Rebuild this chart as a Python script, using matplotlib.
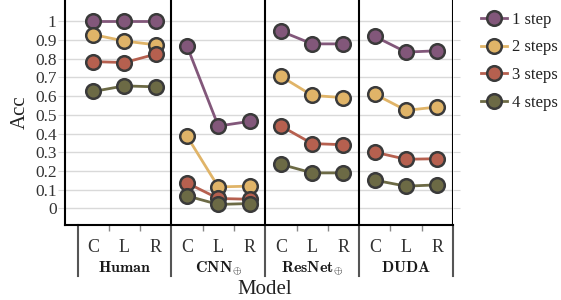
import numpy as np
import matplotlib
matplotlib.use("Agg")
import matplotlib.pyplot as plt
import matplotlib.transforms as mtransforms

plt.rcParams['font.family'] = ['Liberation Serif', 'DejaVu Serif']
plt.rcParams['mathtext.fontset'] = 'cm'

groups = [r'$\mathbf{Human}$', r'$\mathbf{CNN}_{\oplus}$', r'$\mathbf{ResNet}_{\oplus}$', r'$\mathbf{DUDA}$']
views = ['C', 'L', 'R']
series = ['1 step', '2 steps', '3 steps', '4 steps']
colors = ['#82577a', '#e0b468', '#b6604f', '#6c6a45']

# accuracy per group, per series, per view (C, L, R)
human = [[1.0, 1.0, 1.0], [0.93, 0.895, 0.875], [0.785, 0.78, 0.825], [0.625, 0.655, 0.65]]
cnn = [[0.868, 0.44, 0.465], [0.385, 0.114, 0.118], [0.135, 0.052, 0.048], [0.066, 0.02, 0.025]]
resnet = [[0.948, 0.88, 0.88], [0.706, 0.604, 0.592], [0.44, 0.346, 0.34], [0.235, 0.189, 0.189]]
duda = [[0.92, 0.836, 0.843], [0.611, 0.524, 0.542], [0.30, 0.262, 0.265], [0.15, 0.118, 0.125]]
data = [human, cnn, resnet, duda]

fig = plt.figure(figsize=(5.61, 3.0), dpi=100)
ax = fig.add_axes([65/561, 0.25, (453-65)/561, 0.75])

for s in range(len(series)):
    for g in range(len(groups)):
        xs = np.arange(3) + 3*g
        ax.plot(xs, data[g][s], '-o', color=colors[s], lw=2, ms=10.5,
                mec='#3a3a3a', mew=1.8, zorder=3,
                label=series[s] if g == 0 else None)

for g in range(1, len(groups)):
    ax.axvline(3*g - 0.5, color='black', lw=1.5, zorder=2)

ax.set_xlim(-0.9, 11.5)
ax.set_ylim(-0.09, 1.115)
ax.set_yticks(np.arange(0, 1.01, 0.1))
ax.set_yticklabels(['0', '0.1', '0.2', '0.3', '0.4', '0.5', '0.6', '0.7', '0.8', '0.9', '1'])
ax.grid(axis='y', color='#d9d9d9', lw=1, zorder=0)
ax.tick_params(axis='y', which='major', left=True, right=True, length=5, color='#d9d9d9',
               labelsize=12.5, pad=1, labelcolor='#333333')
ax.set_ylabel('Acc', fontsize=15, labelpad=4, color='#222222')

ax.set_xticks(np.arange(12))
ax.set_xticklabels(views * 4)
ax.tick_params(axis='x', which='major', length=0, labelsize=13, pad=10, labelcolor='#333333')
ax.set_xticks([3*g + h for g in range(4) for h in (0.5, 1.5)], minor=True)
ax.tick_params(axis='x', which='minor', length=4, color='#888888', width=1)

for side in ['top', 'right']:
    ax.spines[side].set_visible(False)
ax.axvline(11.5, color='black', lw=1.5, zorder=2)
ax.spines['left'].set_linewidth(1.5)
ax.spines['bottom'].set_linewidth(1.5)

trans = mtransforms.blended_transform_factory(ax.transData, ax.transAxes)
for g in range(len(groups) + 1):
    ax.plot([3*g - 0.5, 3*g - 0.5], [0, -0.225], color='#555555', lw=1.5,
            transform=trans, clip_on=False)
for g in range(len(groups)):
    ax.text(3*g + 1, -0.19, groups[g], transform=trans, ha='center', va='center',
            fontsize=11.5, color='#1a1a1a')

fig.text(265/561, 0.035, 'Model', ha='center', va='center', fontsize=15, color='#222222')

fig.legend(loc='upper left', bbox_to_anchor=(469/561, 1.0), frameon=False,
           fontsize=12, handlelength=1.6, handletextpad=0.25, labelspacing=0.7,
           borderaxespad=0.3, labelcolor='#222222')

fig.savefig('out.png', dpi=100)
